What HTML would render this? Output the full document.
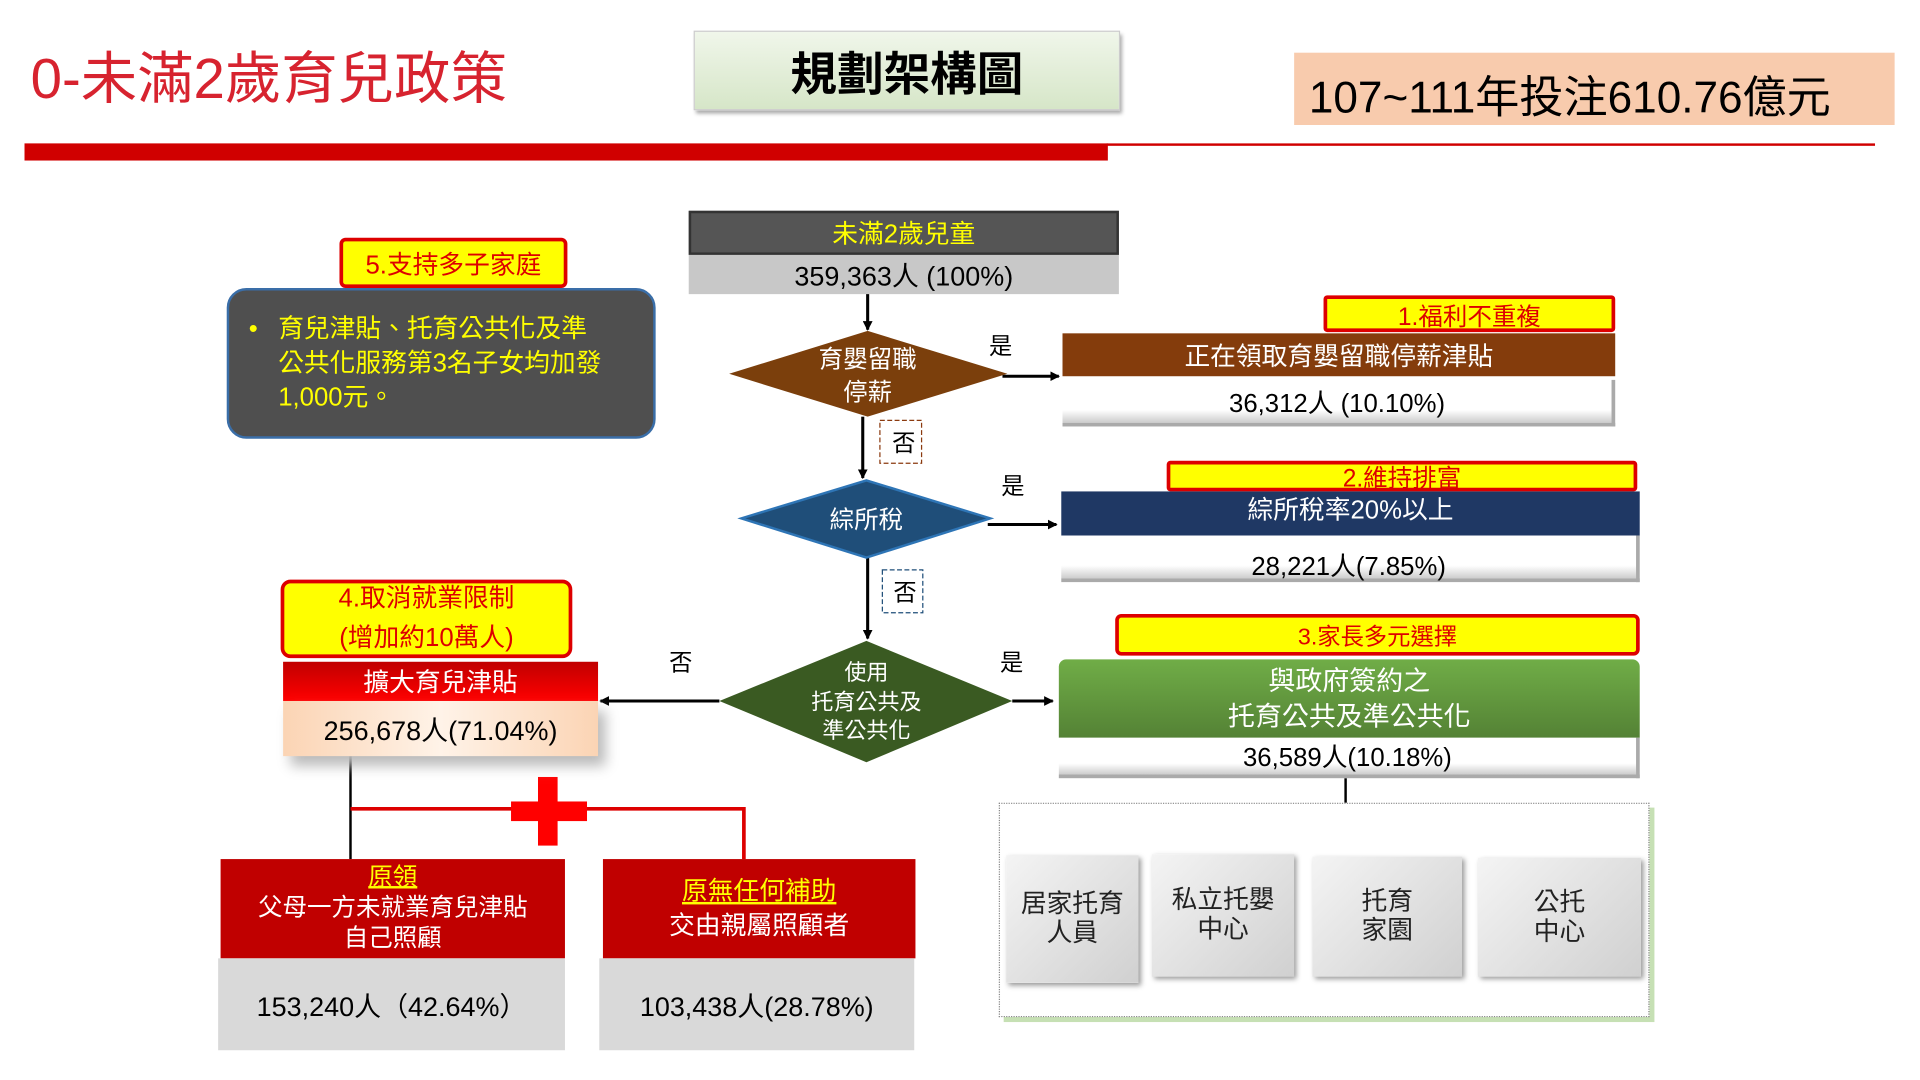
<!DOCTYPE html>
<html><head><meta charset="utf-8"><style>
html,body{margin:0;padding:0;background:#fff;width:1920px;height:1080px;overflow:hidden}
#s{position:absolute;left:0;top:0;width:1560px;height:878px;transform:scale(1.2255);transform-origin:0 0;font-family:"Liberation Sans","Noto Sans CJK TC",sans-serif}
.a{position:absolute;box-sizing:border-box}
.c{display:flex;align-items:center;justify-content:center;text-align:center}
.y{background:#ffff00;border:3px solid #d00;color:#d00;border-radius:5px}
.g{background:#d9d9d9}
.w{background:linear-gradient(#fff 70%,#ccc);border-right:3px solid #aaa;border-bottom:3px solid #aaa}
.gb{background:linear-gradient(135deg,#f4f4f4,#d0d0d0);box-shadow:2px 2px 4px #999;font-size:21px;line-height:24px;color:#222}
</style></head><body><div id="s">
<div class="a" style="left:25px;top:28px;font-size:46px;color:#d7232f;white-space:nowrap">0-未滿2歲育兒政策</div>
<div class="a c" style="left:566px;top:25px;width:348px;height:65px;background:linear-gradient(#f0f6ea,#d6e6c8);border:1px solid #ccc;box-shadow:2px 3px 3px #aaa;font-size:38px;font-weight:bold">規劃架構圖</div>
<div class="a" style="left:1056px;top:43px;width:490px;height:59px;background:#f8cbad;font-size:36px;padding:8px 0 0 12px;white-space:nowrap">107~111年投注610.76億元</div>
<div class="a" style="left:20px;top:117px;width:884px;height:14px;background:#d00000"></div>
<div class="a" style="left:903px;top:117px;width:627px;height:2px;background:#d00000"></div>

<div class="a y c" style="left:277px;top:194px;width:186px;height:41px;font-size:21px">5.支持多子家庭</div>
<div class="a" style="left:185px;top:235px;width:350px;height:123px;background:#4f4f4f;border:2px solid #3a6ea8;border-radius:16px;color:#ffff00;font-size:21px;line-height:28px;padding:18px 0 0 40px;white-space:nowrap">
<span style="position:absolute;left:16px;top:18px">•</span>育兒津貼、托育公共化及準<br>公共化服務第3名子女均加發<br>1,000元。</div>

<div class="a c" style="left:562px;top:172px;width:351px;height:36px;background:#555;border:2px solid #333;color:#ffff00;font-size:21px">未滿2歲兒童</div>
<div class="a c" style="left:562px;top:208px;width:351px;height:32px;background:#c8c8c8;font-size:22px">359,363人 (100%)</div>

<svg class="a" style="left:0;top:0" width="1560" height="878">
<defs><marker id="m" markerWidth="8" markerHeight="8" refX="7" refY="4" orient="auto" markerUnits="userSpaceOnUse"><path d="M0,0 L8,4 L0,8z"/></marker></defs>
<g stroke="#000" stroke-width="2.5" fill="none" marker-end="url(#m)">
<line x1="708" y1="240" x2="708" y2="269"/>
<line x1="818" y1="307" x2="864" y2="307"/>
<line x1="704" y1="340" x2="704" y2="390"/>
<line x1="806" y1="428" x2="862" y2="428"/>
<line x1="708" y1="455" x2="708" y2="521"/>
<line x1="587" y1="572" x2="490" y2="572"/>
<line x1="826" y1="572" x2="859" y2="572"/>
</g>
<polygon points="708,270 822,305 708,340 595,305" fill="#7b3f0c"/>
<polygon points="707,392 808,423 707,455 605,423" fill="#1f4e79" stroke="#2e75b6" stroke-width="2"/>
<polygon points="707,523 826,572 707,622 587,572" fill="#3a5a22"/>
<rect x="718" y="343" width="34" height="35" fill="none" stroke="#8b3a0f" stroke-dasharray="4,2"/>
<rect x="720" y="465" width="33" height="35" fill="none" stroke="#1f4e79" stroke-dasharray="4,2"/>
<line x1="1098" y1="635" x2="1098" y2="655" stroke="#000" stroke-width="2"/>
<line x1="286" y1="617" x2="286" y2="701" stroke="#000" stroke-width="2"/>
<polyline points="286,660 607,660 607,701" fill="none" stroke="#d00" stroke-width="3"/>
<rect x="439" y="634" width="16" height="56" fill="#f00"/>
<rect x="417" y="654" width="62" height="16" fill="#f00"/>
<g font-size="19" font-family="Liberation Sans,Noto Sans CJK TC,sans-serif" fill="#000">
<text x="807" y="289">是</text><text x="817" y="403">是</text><text x="816" y="547">是</text><text x="546" y="547">否</text>
<text x="728" y="368">否</text><text x="729" y="490">否</text>
</g>
<g font-size="20" fill="#fff" text-anchor="middle" font-family="Liberation Sans,Noto Sans CJK TC,sans-serif">
<text x="708" y="300">育嬰留職</text><text x="708" y="327">停薪</text>
<text x="707" y="431">綜所稅</text>
<text x="707" y="555" font-size="18">使用</text><text x="707" y="579" font-size="18">托育公共及</text><text x="707" y="602" font-size="18">準公共化</text>
</g>
</svg>

<div class="a y c" style="left:1080px;top:241px;width:238px;height:30px;font-size:20px;border-radius:3px">1.福利不重複</div>
<div class="a c" style="left:867px;top:272px;width:451px;height:35px;background:#843c0c;color:#fff;font-size:21px">正在領取育嬰留職停薪津貼</div>
<div class="a c w" style="left:867px;top:310px;width:451px;height:38px;font-size:21px">36,312人 (10.10%)</div>

<div class="a y c" style="left:952px;top:376px;width:384px;height:25px;font-size:20px;border-radius:3px">2.維持排富</div>
<div class="a c" style="left:866px;top:401px;width:472px;height:36px;background:#1f3864;color:#fff;font-size:21px;padding-bottom:8px">綜所稅率20%以上</div>
<div class="a c w" style="left:866px;top:437px;width:472px;height:38px;font-size:21px;padding-top:12px">28,221人(7.85%)</div>

<div class="a y c" style="left:910px;top:501px;width:428px;height:34px;font-size:19px">3.家長多元選擇</div>
<div class="a c" style="left:864px;top:538px;width:474px;height:64px;background:linear-gradient(#70ad47,#548235);color:#fff;font-size:22px;line-height:29px;border-radius:6px 6px 0 0">與政府簽約之<br>托育公共及準公共化</div>
<div class="a c w" style="left:864px;top:602px;width:474px;height:33px;font-size:21px">36,589人(10.18%)</div>

<div class="a" style="left:815px;top:655px;width:531px;height:175px;border:1px dotted #888;box-shadow:4px 4px 0 #c6e0b4"></div>
<div class="a c gb" style="left:821px;top:698px;width:108px;height:104px">居家托育<br>人員</div>
<div class="a c gb" style="left:940px;top:697px;width:116px;height:100px">私立托嬰<br>中心</div>
<div class="a c gb" style="left:1071px;top:699px;width:122px;height:98px">托育<br>家園</div>
<div class="a c gb" style="left:1206px;top:700px;width:133px;height:97px">公托<br>中心</div>

<div class="a y c" style="left:229px;top:473px;width:238px;height:64px;font-size:21px;line-height:32px;border-radius:8px">4.取消就業限制<br>(增加約10萬人)</div>
<div class="a c" style="left:231px;top:540px;width:257px;height:32px;background:linear-gradient(#c00000,#f00);color:#fff;font-size:21px">擴大育兒津貼</div>
<div class="a c" style="left:231px;top:572px;width:257px;height:45px;background:linear-gradient(90deg,#fbd4b4,#fff3e8,#fbd4b4);box-shadow:6px 8px 10px #bbb;font-size:22px">256,678人(71.04%)</div>

<div class="a c" style="left:180px;top:701px;width:281px;height:81px;background:#c00000;color:#fff;font-size:20px;line-height:25px;flex-direction:column"><span style="color:#ff0;text-decoration:underline">原領</span>父母一方未就業育兒津貼<br>自己照顧</div>
<div class="a c g" style="left:178px;top:782px;width:283px;height:75px;font-size:22px">153,240人（42.64%）</div>
<div class="a c" style="left:492px;top:701px;width:255px;height:81px;background:#c00000;color:#fff;font-size:21px;line-height:28px;flex-direction:column"><span style="color:#ff0;text-decoration:underline">原無任何補助</span>交由親屬照顧者</div>
<div class="a c g" style="left:489px;top:782px;width:257px;height:75px;font-size:22px">103,438人(28.78%)</div>
</div></body></html>
